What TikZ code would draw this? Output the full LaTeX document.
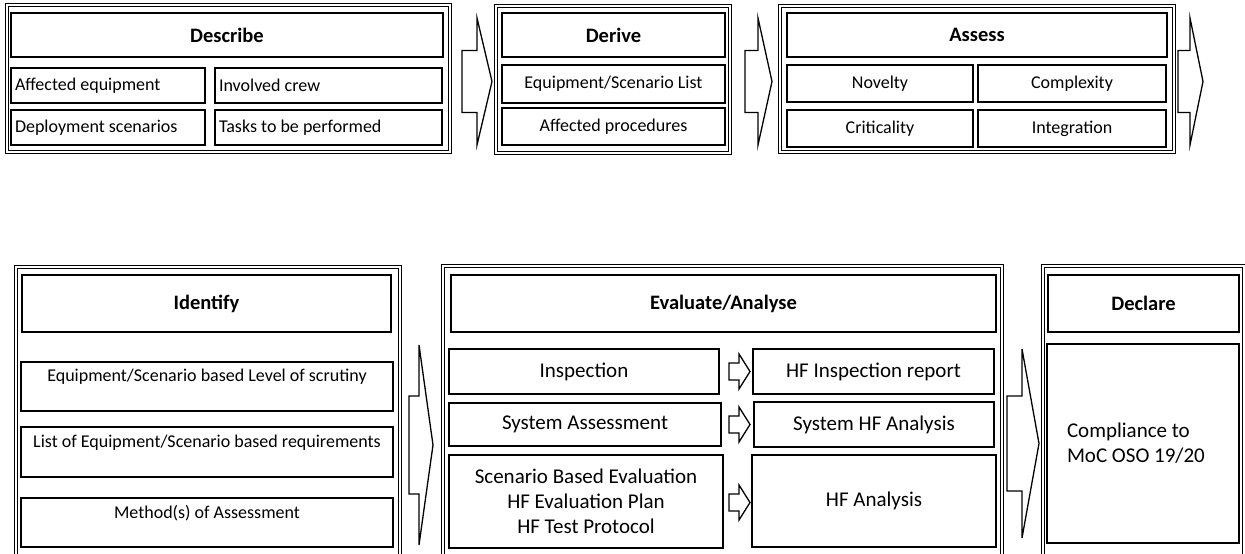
\documentclass[tikz,border=0pt]{standalone}
\usepackage{fontspec}
\setmainfont{Carlito}
\usetikzlibrary{calc}

% block arrow: left x, neck x, tip x, mid y, shaft half height, head half height
\newcommand{\flowarrow}[6]{%
  \draw[blockarr] (#1,#4-#5) -- (#2,#4-#5) -- (#2,#4-#6) -- (#3,#4)
    -- (#2,#4+#6) -- (#2,#4+#5) -- (#1,#4+#5) -- cycle;}

\begin{document}
\begin{tikzpicture}[
    x=1pt, y=-1pt,
    frame/.style={draw, double, line width=0.8pt, double distance=1.8pt},
    box/.style={draw, line width=1.5pt, fill=white, anchor=north west, inner sep=0pt, outer sep=0pt, align=center},
    head/.style={box, font=\fontsize{20.5}{24}\selectfont\bfseries},
    sub/.style={box, font=\fontsize{18}{22}\selectfont},
    lsub/.style={sub, align=flush left, inner xsep=4pt},
    big/.style={box, font=\fontsize{21}{25}\selectfont},
    blockarr/.style={draw, line width=1.3pt, fill=white, line join=miter}
  ]
  \clip (0,0) rectangle (1245,554);
  \fill[white] (0,0) rectangle (1245,554);

  % top row
  \draw[frame] (7,5) rectangle (450,152);
  \node[head, minimum width=432pt, minimum height=44pt] (describe) at (11,13) {Describe};
  \node[lsub, text width=186pt, minimum height=35pt] (equip) at (11,68) {Affected equipment};
  \node[lsub, text width=219pt, minimum height=35pt] (crew) at (215,68) {Involved crew};
  \node[lsub, text width=186pt, minimum height=35pt] (deploy) at (11,110) {Deployment scenarios};
  \node[lsub, text width=219pt, minimum height=35pt] (tasks) at (215,110) {Tasks to be performed};

  \flowarrow{462}{477}{492}{81.5}{31}{63.5}

  \draw[frame] (496,6) rectangle (730,153);
  \node[head, minimum width=223pt, minimum height=44pt] (derive) at (502,13) {Derive};
  \node[sub, minimum width=223pt, minimum height=38pt] (eqlist) at (502,65) {Equipment/Scenario List};
  \node[sub, minimum width=223pt, minimum height=37pt] (procs) at (502,108) {Affected procedures};

  \flowarrow{745}{758}{772}{81.5}{31}{63.5}

  \draw[frame] (780,6) rectangle (1174,152);
  \node[head, minimum width=380pt, minimum height=44pt] (assess) at (787,13) {Assess};
  \node[sub, minimum width=186pt, minimum height=37pt] (novelty) at (787,65) {Novelty};
  \node[sub, minimum width=188pt, minimum height=37pt] (complex) at (978,65) {Complexity};
  \node[sub, minimum width=186pt, minimum height=37pt] (critic) at (787,110) {Criticality};
  \node[sub, minimum width=188pt, minimum height=37pt] (integr) at (978,110) {Integration};

  \flowarrow{1178}{1190}{1203}{81.5}{31}{63.5}

  % bottom row
  \draw[frame] (16,267) rectangle (400,580);
  \node[head, minimum width=369pt, minimum height=57pt] (identify) at (22,275) {Identify};
  \node[sub, minimum width=372pt, minimum height=49pt] (scrutiny) at (21,362) {Equipment/Scenario based Level of scrutiny\\\mbox{}};
  \node[sub, minimum width=372pt, minimum height=50pt] (reqs) at (21,427) {List of Equipment/Scenario based requirements\\\mbox{}};
  \node[sub, minimum width=372pt, minimum height=49pt] (methods) at (21,498) {Method(s) of Assessment\\\mbox{}};

  \flowarrow{409}{419}{433}{445}{49}{100}

  \draw[frame] (443,266) rectangle (1002,580);
  \node[head, minimum width=545pt, minimum height=57pt] (evaluate) at (451,275) {Evaluate/Analyse};
  \node[big, minimum width=270pt, minimum height=45pt] (insp) at (449,349) {Inspection};
  \node[big, minimum width=272pt, minimum height=43pt] (sysa) at (449,403) {System Assessment};
  \node[big, minimum width=274pt, minimum height=93pt] (scen) at (449,455) {Scenario Based Evaluation\\HF Evaluation Plan\\HF Test Protocol};
  \node[big, minimum width=241pt, minimum height=45pt] (hfinsp) at (753,349) {HF Inspection report};
  \node[big, minimum width=240pt, minimum height=45pt] (syshf) at (754,402) {System HF Analysis};
  \node[big, minimum width=244pt, minimum height=92pt] (hfan) at (752,455) {HF Analysis};

  \flowarrow{729}{739}{750}{371.5}{8.5}{17.5}
  \flowarrow{729}{739}{750}{424.5}{8.5}{17.5}
  \flowarrow{729}{739}{750}{502.5}{8.5}{17.5}

  \flowarrow{1007}{1022}{1039}{443.5}{47.5}{94.5}

  \draw[frame] (1043,266) rectangle (1244,580);
  \node[head, minimum width=191pt, minimum height=57pt] (declare) at (1048,275) {Declare};
  \node[big, align=flush left, inner xsep=20pt, text width=152pt, minimum height=199pt] (comply) at (1047,344) {Compliance to\\MoC OSO 19/20};
\end{tikzpicture}
\end{document}
